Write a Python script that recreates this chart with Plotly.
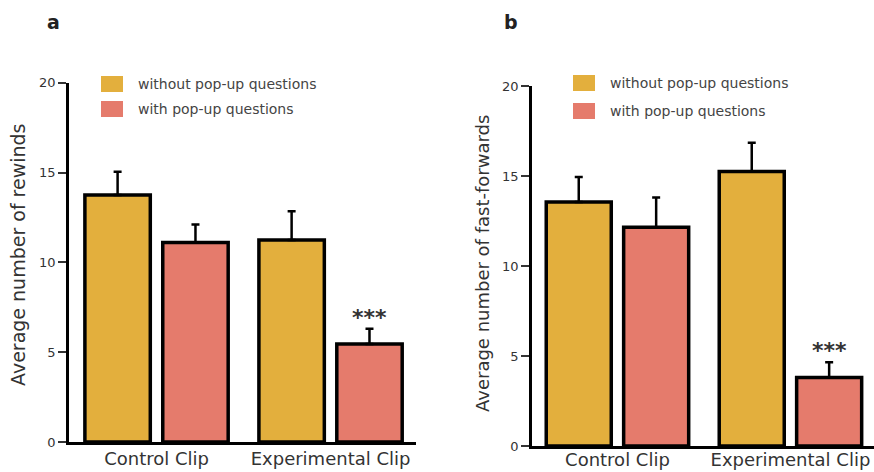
import plotly.graph_objects as go

# ---- data ----
categories = ["Control Clip", "Experimental Clip"]
series_names = ["without pop-up questions", "with pop-up questions"]

rewinds_without = [13.75, 11.25]
rewinds_without_err = [1.3, 1.6]
rewinds_with = [11.1, 5.45]
rewinds_with_err = [1.0, 0.85]

ff_without = [13.55, 15.25]
ff_without_err = [1.4, 1.6]
ff_with = [12.15, 3.8]
ff_with_err = [1.65, 0.85]

y_ticks = [0, 5, 10, 15, 20]
y_titles = ["Average number of rewinds", "Average number of fast-forwards"]
panel_labels = ["a", "b"]
sig_text = "***"

GOLD = "#E3AF3D"
SALMON = "#E57B6C"
FONT = "DejaVu Sans"
W, H = 874, 472

fig = go.Figure()

def add_bars(xa, ya, vals_list, errs_list):
    for name, vals, errs, col in zip(series_names, vals_list, errs_list, [GOLD, SALMON]):
        fig.add_trace(go.Bar(
            x=categories, y=vals, name=name, xaxis=xa, yaxis=ya,
            marker=dict(color=col, line=dict(color="black", width=3.5)),
            error_y=dict(type="data", symmetric=False, array=errs,
                         arrayminus=[0] * len(errs), color="black",
                         thickness=2.5, width=4),
            showlegend=False,
        ))

add_bars("x", "y", [rewinds_without, rewinds_with], [rewinds_without_err, rewinds_with_err])
add_bars("x2", "y2", [ff_without, ff_with], [ff_without_err, ff_with_err])

ytick_font = dict(family=FONT, size=13, color="#333")
xtick_font = dict(family=FONT, size=18, color="#333")

def yaxis(domain, anchor):
    return dict(domain=domain, anchor=anchor, range=[0, 20], tickvals=y_ticks,
                showline=True, linecolor="black", linewidth=2.5,
                ticks="outside", ticklen=8, tickwidth=1.5, tickcolor="#333",
                showgrid=False, zeroline=False, tickfont=ytick_font,
                automargin=False, fixedrange=True)

def xaxis(domain, anchor, rng, standoff):
    return dict(domain=domain, anchor=anchor, range=rng, type="category",
                showline=True, linecolor="black", linewidth=2.5,
                ticks="", showgrid=False, zeroline=False, tickfont=xtick_font,
                ticklabelstandoff=standoff, automargin=False)

fig.update_layout(
    width=W, height=H,
    margin=dict(l=0, r=0, t=0, b=0, pad=0),
    paper_bgcolor="white", plot_bgcolor="white",
    barmode="group", bargap=0.105, bargroupgap=0.16,
    xaxis=xaxis([69 / W, 416 / W], "y", [-0.503, 1.491], -1),
    yaxis=yaxis([(H - 442) / H, (H - 82.7) / H], "x"),
    xaxis2=xaxis([532 / W, 1.0], "y2", [-0.494, 1.483], -4),
    yaxis2=yaxis([(H - 446) / H, (H - 86) / H], "x2"),
)

# y-axis titles
for txt, xp, yp, fs in zip(y_titles, [18, 482], [255, 264], [19, 18]):
    fig.add_annotation(text=txt, xref="paper", yref="paper", x=xp / W, y=(H - yp) / H,
                       textangle=-90, showarrow=False, xanchor="center", yanchor="middle",
                       font=dict(family=FONT, size=fs, color="#333"))

# panel labels
for txt, xp in zip(panel_labels, [53, 511]):
    fig.add_annotation(text="<b>%s</b>" % txt, xref="paper", yref="paper", x=xp / W,
                       y=(H - 22) / H, showarrow=False, xanchor="center", yanchor="middle",
                       font=dict(family=FONT, size=19, color="#222"))

# legends (swatches + text)
legend_pos = [(101, [76, 101]), (573, [75, 103])]
for (lx, ys) in legend_pos:
    for name, col, ytop in zip(series_names, [GOLD, SALMON], ys):
        fig.add_shape(type="rect", xref="paper", yref="paper",
                      x0=lx / W, x1=(lx + 22) / W, y0=(H - ytop) / H, y1=(H - ytop - 16) / H,
                      fillcolor=col, line=dict(width=0))
        fig.add_annotation(text=name, xref="paper", yref="paper", x=(lx + 35) / W,
                           y=(H - ytop - 8) / H, showarrow=False, xanchor="left",
                           yanchor="middle", font=dict(family=FONT, size=14, color="#444"))

# significance stars above the 'with' bar of Experimental Clip
for xa, ya, vals, errs in [("x", "y", rewinds_with, rewinds_with_err),
                           ("x2", "y2", ff_with, ff_with_err)]:
    i = 1
    fig.add_annotation(text="<b>%s</b>" % sig_text, xref=xa, yref=ya,
                       x=i + 0.224, y=vals[i] + errs[i], showarrow=False,
                       xanchor="center", yanchor="bottom", yshift=-3,
                       font=dict(family=FONT, size=22, color="#333"))

fig.write_html("out.html")
